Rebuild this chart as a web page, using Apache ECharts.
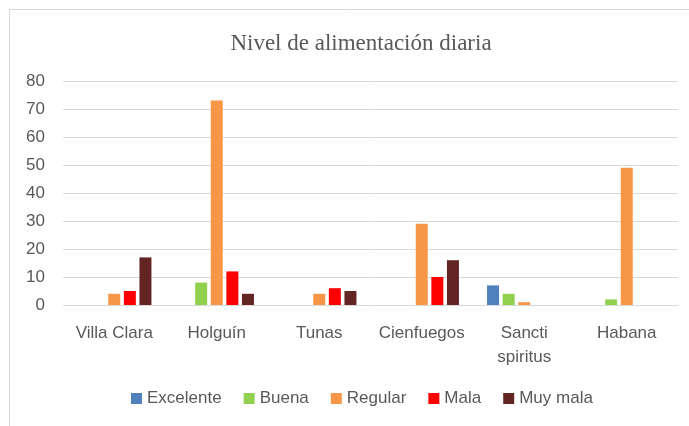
<!DOCTYPE html>
<html>
<head>
<meta charset="utf-8">
<script src="https://cdn.jsdelivr.net/npm/echarts@6/dist/echarts.min.js"></script>
<style>
html,body{margin:0;padding:0;background:#fff;}
#c{width:689px;height:426px;}
</style>
</head>
<body>
<div id="c"></div>
<script>
var categories = ['Villa Clara', 'Holguín', 'Tunas', 'Cienfuegos', 'Sancti\nspiritus', 'Habana'];
var excelente = [0, 0, 0, 0, 7, 0];
var buena = [0, 8, 0, 0, 4, 2];
var regular = [4, 73, 4, 29, 1, 49];
var mala = [5, 12, 6, 10, 0, 0];
var muyMala = [17, 4, 5, 16, 0, 0];
var yTicks = [0, 10, 20, 30, 40, 50, 60, 70, 80];

var names = ['Excelente', 'Buena', 'Regular', 'Mala', 'Muy mala'];
var colors = ['#4F81BD', '#92D050', '#F79646', '#FF0000', '#632523'];
var datas = [excelente, buena, regular, mala, muyMala];

var chart = echarts.init(document.getElementById('c'));
var txt = {color: '#595959', fontFamily: 'Liberation Sans, sans-serif', fontSize: 17};
chart.setOption({
  animation: false,
  title: {
    text: 'Nivel de alimentación diaria',
    left: 356, top: 27, textAlign: 'center',
    textStyle: {fontFamily: 'Liberation Serif, serif', fontSize: 23, fontWeight: 'normal', color: '#595959'}
  },
  legend: {
    bottom: 14, left: 126,
    itemWidth: 11, itemHeight: 11, itemGap: 22,
    icon: 'rect',
    textStyle: txt,
    data: names
  },
  grid: {left: 63, right: 11, top: 81, bottom: 121},
  xAxis: {
    type: 'category',
    data: categories,
    axisLine: {lineStyle: {color: '#d9d9d9', width: 1}},
    axisTick: {show: false},
    axisLabel: Object.assign({margin: 16, lineHeight: 24, interval: 0}, txt)
  },
  yAxis: {
    type: 'value',
    min: yTicks[0], max: yTicks[yTicks.length - 1], interval: 10,
    axisLine: {show: false},
    axisTick: {show: false},
    splitLine: {lineStyle: {color: '#d9d9d9', width: 1}},
    axisLabel: Object.assign({margin: 18}, txt)
  },
  graphic: [{
    type: 'polyline',
    shape: {points: [[9.5, 426], [9.5, 9.5], [689, 9.5]]},
    style: {stroke: '#d9d9d9', lineWidth: 1, fill: null}
  }],
  series: names.map(function (n, i) {
    return {
      name: n, type: 'bar', data: datas[i],
      barWidth: 12, barGap: '30%',
      itemStyle: {color: colors[i]}
    };
  })
});
</script>
</body>
</html>
